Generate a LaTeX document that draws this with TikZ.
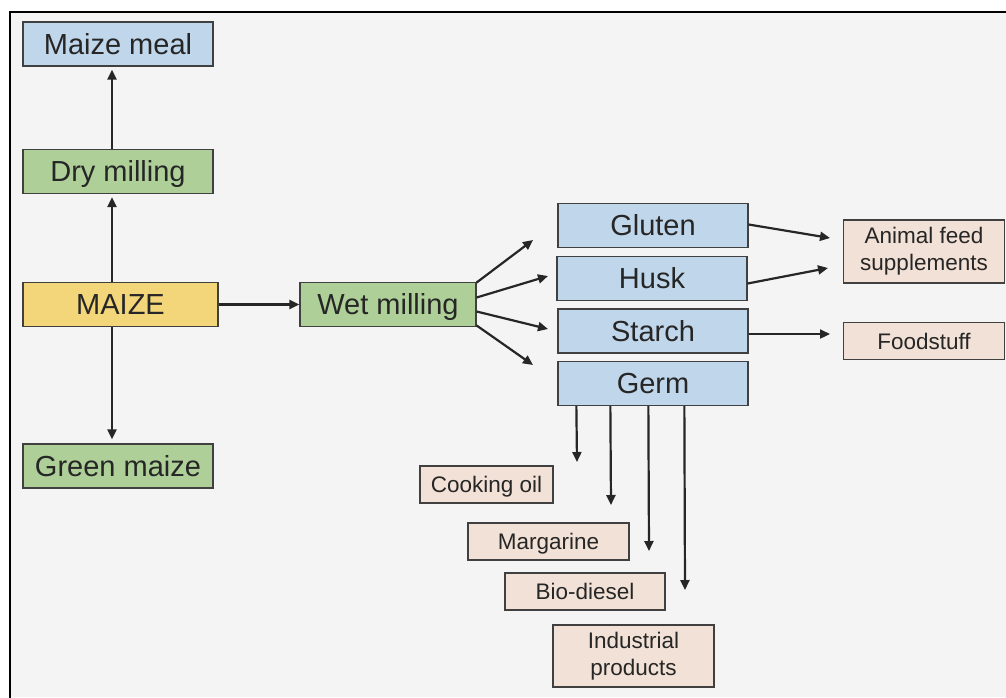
\documentclass[tikz,border=0pt]{standalone}
\usepackage{fontspec}
\setmainfont{Liberation Sans}
\usetikzlibrary{arrows.meta}

\definecolor{boxblue}{RGB}{192,214,234}
\definecolor{boxgreen}{RGB}{174,208,152}
\definecolor{boxyellow}{RGB}{244,214,122}
\definecolor{boxpeach}{RGB}{242,225,214}
\definecolor{boxline}{RGB}{64,64,64}
\definecolor{txt}{RGB}{38,38,38}
\definecolor{bg}{RGB}{244,244,244}

\begin{document}
\begin{tikzpicture}[x=1pt, y=-1pt,
  box/.style = {draw=boxline, line width=1.3pt, inner sep=0pt, text=txt, align=center},
  big/.style = {box, minimum width=190pt, minimum height=44pt, font=\fontsize{29}{31}\selectfont,
                text height=23pt, text depth=2.5pt},
  small/.style = {box, minimum width=161pt, minimum height=37pt, font=\fontsize{22.5}{27}\selectfont,
                text height=18pt, text depth=2pt},
  twoline/.style = {small, text height=, text depth=, minimum height=63pt},
  arr/.style = {-{Triangle[length=10pt,width=9pt]}, line width=2.2pt, draw=txt}]
                        \useasboundingbox (0,0) rectangle (1006,697);
                        \fill[white] (0,0) rectangle (1006,697);
                        \fill[bg] (10,12) rectangle (1006,697);
                        \draw[line width=2pt] (1010,12) -- (10,12) -- (10,700);

                        \node[big, fill=boxblue] (meal) at (118,44) {Maize meal};
                        \node[big, fill=boxgreen] (dry) at (118,171.5) {Dry milling};
                        \node[big, fill=boxyellow, minimum width=195pt] (maize) at (120.5,304.5) {MAIZE};
                        \node[big, fill=boxgreen] (green) at (118,466) {Green maize};
                        \node[big, fill=boxgreen, minimum width=176pt] (wet) at (388,304.5) {Wet milling};

                        \node[big, fill=boxblue] (gluten) at (653,225.5) {Gluten};
                        \node[big, fill=boxblue] (husk) at (652,278.5) {Husk};
                        \node[big, fill=boxblue] (starch) at (653,331) {Starch};
                        \node[big, fill=boxblue] (germ) at (653,383.5) {Germ};

                        \node[twoline, fill=boxpeach] (feed) at (924,251.5) {Animal feed\\supplements};
                        \node[small, fill=boxpeach] (food) at (924,341) {Foodstuff};
                        \node[small, fill=boxpeach, minimum width=133pt] (oil) at (486.5,484.5) {Cooking oil};
                        \node[small, fill=boxpeach] (marg) at (548.5,541.5) {Margarine};
                        \node[small, fill=boxpeach, minimum width=160pt] (bio) at (585,591.5) {Bio-diesel};
                        \node[twoline, fill=boxpeach, minimum height=62pt] (ind) at (633.5,656) {Industrial\\products};

                        \coordinate (toGluten) at (533,240);
                        \coordinate (toHusk) at (548,276);
                        \coordinate (toStarch) at (548,329);
                        \coordinate (toGerm) at (533,365);
                        \coordinate (feedA) at (830,238);
                        \coordinate (feedB) at (828,268);
                        \coordinate (foodA) at (830,334);
                        \coordinate (oilA) at (577,462);
                        \coordinate (margA) at (611,505);
                        \coordinate (bioA) at (649,551);
                        \coordinate (indA) at (685,590);

                        \draw[arr] ([xshift=-6pt]dry.north) -- ([xshift=-6pt,yshift=-3pt]meal.south);
                        \draw[arr] ([xshift=-8.5pt]maize.north) -- ([xshift=-6pt,yshift=-3pt]dry.south);
                        \draw[arr] ([xshift=-8.5pt]maize.south) -- ([xshift=-6pt,yshift=4pt]green.north);
                        \draw[arr] (maize.east) -- (wet.west);

                        \draw[arr] ([yshift=22pt]wet.east) -- (toGluten);
                        \draw[arr] ([yshift=7pt]wet.east) -- (toHusk);
                        \draw[arr] ([yshift=-7pt]wet.east) -- (toStarch);
                        \draw[arr] ([yshift=-21pt]wet.east) -- (toGerm);

                        \draw[arr] ([yshift=1pt]gluten.east) -- (feedA);
                        \draw[arr] ([yshift=-5pt]husk.east) -- (feedB);
                        \draw[arr] ([yshift=-3pt]starch.east) -- (foodA);

                        \draw[arr] ([xshift=19pt]germ.south west) -- (oilA);
                        \draw[arr] ([xshift=53pt]germ.south west) -- (margA);
                        \draw[arr] ([xshift=91pt]germ.south west) -- (bioA);
                        \draw[arr] ([xshift=127pt]germ.south west) -- (indA);
                    \end{tikzpicture}
\end{document}
